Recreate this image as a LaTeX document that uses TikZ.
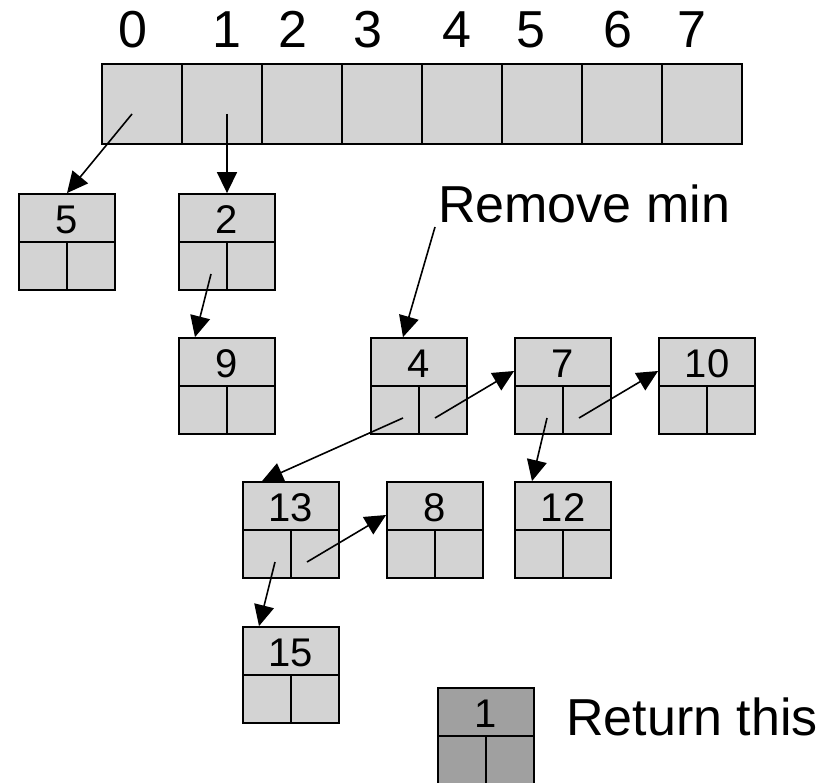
\documentclass[tikz,border=0pt]{standalone}
\usepackage{fontspec}
\setmainfont{Liberation Sans}
\usetikzlibrary{arrows.meta}

\definecolor{cellfill}{RGB}{211,211,211}
\definecolor{minfill}{RGB}{160,160,160}

\tikzset{
  arraycell/.style={draw, line width=1.8pt, fill=cellfill, minimum width=80pt, minimum height=80pt, inner sep=0pt},
  keybox/.style={draw, line width=1.8pt, minimum width=96pt, minimum height=48pt, inner sep=0pt, font=\fontsize{40}{46}\selectfont},
  halfbox/.style={draw, line width=1.8pt, minimum width=48pt, minimum height=48pt, inner sep=0pt},
  bigtext/.style={inner sep=0pt, font=\fontsize{52}{60}\selectfont},
  ptr/.style={-{Triangle[length=21pt,width=20pt]}, line width=1.6pt}
}

% one binomial-queue node: fill, name, centre x, top y, key
\newcommand{\binnode}[5]{%
  \node[keybox, fill=#1] (#2) at (#3,#4+24) {};
  \node[inner sep=0pt, font=\fontsize{40}{46}\selectfont] (#2-key) at (#3,#4+26) {#5};
  \node[halfbox, fill=#1] (#2-l) at (#3-24,#4+72) {};
  \node[halfbox, fill=#1] (#2-r) at (#3+24,#4+72) {};
  \coordinate (#2-lp) at ([xshift=8pt,yshift=-8pt]#2-l.center);
  \coordinate (#2-rp) at ([xshift=-8pt,yshift=-8pt]#2-r.center);
}

\begin{document}
\begin{tikzpicture}[x=1pt,y=-1pt]
  \useasboundingbox (0,0) rectangle (837,783);

  % the array of trees
  \foreach \i in {0,...,7}
    \node[arraycell] (a\i) at (142+80*\i,104) {};
  \foreach \i/\x in {0/133,1/227,2/293,3/368,4/457,5/531,6/618,7/692}
    \node[bigtext, anchor=base] (idx\i) at (\x,48) {\i};

  \binnode{cellfill}{n5}{67}{194}{5}
  \binnode{cellfill}{n2}{227}{194}{2}
  \binnode{cellfill}{n9}{227}{338}{9}
  \binnode{cellfill}{n4}{419}{338}{4}
  \binnode{cellfill}{n7}{563}{338}{7}
  \binnode{cellfill}{n10}{707}{338}{10}
  \binnode{cellfill}{n13}{291}{482}{13}
  \binnode{cellfill}{n8}{435}{482}{8}
  \binnode{cellfill}{n12}{563}{482}{12}
  \binnode{cellfill}{n15}{291}{627}{15}
  \binnode{minfill}{n1}{486}{688}{1}

  \node[bigtext, anchor=base west] (rmlabel) at (438,223) {Remove min};
  \node[bigtext, anchor=base west] (retlabel) at (566,735) {Return this};

  \draw[ptr] ([xshift=-10pt,yshift=-10pt]a0.center) -- (n5.north);
  \draw[ptr] ([xshift=5pt,yshift=-10pt]a1.center) -- (n2.north);
  \draw[ptr] (n2-lp) -- ([xshift=-32pt]n9.north);
  \draw[ptr] ([xshift=-3pt,yshift=-4pt]rmlabel.base west) -- ([xshift=-16pt]n4.north);
  \draw[ptr] (n4-lp) -- ([xshift=-29pt]n13.north);
  \draw[ptr] (n4-rp) -- ([yshift=-9pt]n7.west);
  \draw[ptr] (n7-lp) -- ([xshift=-31pt]n12.north);
  \draw[ptr] (n7-rp) -- ([yshift=-9pt]n10.west);
  \draw[ptr] (n13-lp) -- ([xshift=-32pt]n15.north);
  \draw[ptr] (n13-rp) -- ([yshift=-9pt]n8.west);
\end{tikzpicture}
\end{document}
